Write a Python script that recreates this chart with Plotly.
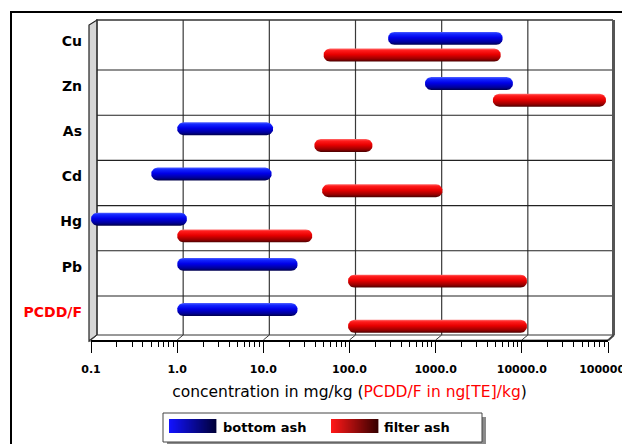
import numpy as np
import plotly.graph_objects as go

# ---------------- data ----------------
categories = ["Cu", "Zn", "As", "Cd", "Hg", "Pb", "PCDD/F"]
bottom_ash_low = [280, 750, 1.0, 0.5, 0.1, 1.0, 1.0]
bottom_ash_high = [6000, 7900, 13, 12.5, 1.3, 25, 25]
filter_ash_low = [50, 4600, 39, 48, 1.0, 96, 96]
filter_ash_high = [5700, 95000, 185, 1200, 37, 11500, 11500]
series_names = ["bottom ash", "filter ash"]
x_tick_vals = [0.1, 1, 10, 100, 1000, 10000, 100000]
x_tick_text = ["0.1", "1.0", "10.0", "100.0", "1000.0", "10000.0", "100000.0"]

# ---------------- layout constants ----------------
W, H = 622, 444
ML, MR, MT, MB = 91, 14, 20, 104
PW, PH = W - ML - MR, H - MT - MB
X_RANGE = [-1, 5]
Y_RANGE = [6.473, -0.606]
PX_PER_DEC = PW / (X_RANGE[1] - X_RANGE[0])
PX_PER_UNIT = PH / (Y_RANGE[0] - Y_RANGE[1])
BAR_HALF = 0.143                    # bar half thickness in y units
R_DEC = BAR_HALF * PX_PER_UNIT / PX_PER_DEC   # cap radius in decades
BLUE_OFF, RED_OFF, LABEL_OFF = -0.2, 0.17, -0.15
DEPTH = 6                           # pseudo 3D depth in px

FONT = "DejaVu Sans"

def fx(px):
    return (px - ML) / PW

def fy(py):
    return (H - MB - py) / PH

blue_scale = [[0, "#5060ff"], [0.15, "#1428ff"], [0.45, "#0000e8"],
              [0.8, "#000098"], [1, "#00004a"]]
red_scale = [[0, "#ff6a6a"], [0.15, "#ff1c1c"], [0.45, "#e80000"],
             [0.8, "#980000"], [1, "#4a0000"]]


def capsule(lo, hi, yc):
    a = np.log10(lo) + R_DEC
    b = np.log10(hi) - R_DEC
    t1 = np.linspace(np.pi / 2, 3 * np.pi / 2, 15)
    t2 = np.linspace(-np.pi / 2, np.pi / 2, 15)
    xs = np.concatenate([a + R_DEC * np.cos(t1), b + R_DEC * np.cos(t2)])
    ys = np.concatenate([yc - BAR_HALF * np.sin(t1), yc - BAR_HALF * np.sin(t2)])
    xs = np.append(xs, xs[0])
    ys = np.append(ys, ys[0])
    return 10 ** xs, ys


fig = go.Figure()

for lows, highs, off, scale, name in [
    (bottom_ash_low, bottom_ash_high, BLUE_OFF, blue_scale, series_names[0]),
    (filter_ash_low, filter_ash_high, RED_OFF, red_scale, series_names[1]),
]:
    for i, (lo, hi) in enumerate(zip(lows, highs)):
        yc = i + off
        xs, ys = capsule(lo, hi, yc)
        fig.add_trace(go.Scatter(
            x=xs, y=ys, mode="lines", fill="toself",
            line=dict(width=0, color="rgba(0,0,0,0)"),
            fillgradient=dict(type="vertical", colorscale=scale,
                              start=yc - BAR_HALF, stop=yc + BAR_HALF),
            name=name, showlegend=False, hoverinfo="skip",
        ))

shapes = []
# left wall
shapes.append(dict(type="path", xref="paper", yref="paper", layer="below",
                   path=f"M {fx(89)} {fy(341)} L {fx(89)} {fy(25)} L {fx(97)} {fy(20)} "
                        f"L {fx(97)} {fy(335)} Z",
                   fillcolor="#d6d6d6", line=dict(color="#222222", width=1.2)))
# floor
shapes.append(dict(type="path", xref="paper", yref="paper", layer="below",
                   path=f"M {fx(89)} {fy(341)} L {fx(97)} {fy(335)} L {fx(614)} {fy(335)} "
                        f"L {fx(608)} {fy(340)} Z",
                   fillcolor="#ffffff", line=dict(color="#333333", width=1)))
# vertical grid lines on back wall + floor diagonals
for v in x_tick_vals:
    shapes.append(dict(type="line", xref="x", xsizemode="pixel", xanchor=v,
                       x0=DEPTH, x1=DEPTH, yref="paper", y0=fy(335), y1=fy(20),
                       layer="below", line=dict(color="#3a3a3a", width=1.2)))
    shapes.append(dict(type="line", xref="x", xsizemode="pixel", xanchor=v,
                       x0=0, x1=DEPTH, yref="paper", y0=fy(340), y1=fy(335),
                       layer="below", line=dict(color="#3a3a3a", width=1)))
# horizontal grid lines between categories
for i in range(len(categories) - 1):
    shapes.append(dict(type="line", xref="paper", x0=fx(97), x1=fx(613),
                       yref="y", y0=i + 0.5, y1=i + 0.5, layer="below",
                       line=dict(color="#222222", width=1.1)))
# top edge
shapes.append(dict(type="line", xref="paper", yref="paper", x0=fx(96), x1=fx(613),
                   y0=fy(20), y1=fy(20), layer="below",
                   line=dict(color="#333333", width=1.5)))
# right wall edge
shapes.append(dict(type="line", xref="paper", yref="paper", x0=fx(613.5), x1=fx(613.5),
                   y0=fy(20), y1=fy(335), layer="above",
                   line=dict(color="#555555", width=3)))
shapes.append(dict(type="line", xref="paper", yref="paper", x0=fx(614), x1=fx(608),
                   y0=fy(335), y1=fy(340.5), layer="above",
                   line=dict(color="#444444", width=2)))
# outer frame
shapes.append(dict(type="rect", xref="paper", yref="paper", x0=fx(11), x1=fx(660),
                   y0=fy(480), y1=fy(12), layer="above",
                   line=dict(color="#000000", width=2), fillcolor="rgba(0,0,0,0)"))
# legend box shadow + box
shapes.append(dict(type="rect", xref="paper", yref="paper", x0=fx(167), x1=fx(486),
                   y0=fy(446), y1=fy(417), layer="above",
                   line=dict(width=0), fillcolor="#8a8a8a"))
shapes.append(dict(type="rect", xref="paper", yref="paper", x0=fx(163), x1=fx(482),
                   y0=fy(442), y1=fy(413), layer="above",
                   line=dict(color="#444444", width=1), fillcolor="#ffffff"))


def hex2rgb(h):
    return [int(h[k:k + 2], 16) for k in (1, 3, 5)]


def swatch(x_left, y_top, c0, c1, w=47, h=14, n=47):
    r0, r1 = np.array(hex2rgb(c0)), np.array(hex2rgb(c1))
    out = []
    for k in range(n):
        t = k / (n - 1)
        c = (r0 + (r1 - r0) * t).round().astype(int)
        xa = x_left + w * k / n
        xb = x_left + w * (k + 1) / n + 0.4
        out.append(dict(type="rect", xref="paper", yref="paper",
                        x0=fx(xa), x1=fx(xb), y0=fy(y_top + h), y1=fy(y_top),
                        layer="above", line=dict(width=0),
                        fillcolor=f"rgb({c[0]},{c[1]},{c[2]})"))
    return out


shapes += swatch(169, 419, "#1212ff", "#00003a")
shapes += swatch(331, 419, "#ff1818", "#380000")

annotations = [
    dict(text=series_names[0], xref="paper", yref="paper", x=fx(221), y=fy(427),
         xanchor="left", yanchor="middle", showarrow=False,
         font=dict(family=FONT, size=13, color="#000000", weight="bold")),
    dict(text=series_names[1], xref="paper", yref="paper", x=fx(382), y=fy(427),
         xanchor="left", yanchor="middle", showarrow=False,
         font=dict(family=FONT, size=13, color="#000000", weight="bold")),
]

y_tick_text = [f'<span style="color:#ff0000">{c}</span>' if c == "PCDD/F" else c
               for c in categories]
minor_vals = [d * m for d in x_tick_vals[:-1] for m in range(2, 10)]

fig.update_layout(
    width=W, height=H,
    margin=dict(l=ML, r=MR, t=MT, b=MB, autoexpand=False),
    paper_bgcolor="#ffffff", plot_bgcolor="rgba(0,0,0,0)",
    showlegend=False,
    shapes=shapes, annotations=annotations,
    xaxis=dict(
        type="log", range=X_RANGE, autorange=False,
        tickmode="array", tickvals=x_tick_vals, ticktext=x_tick_text,
        ticks="outside", ticklen=11, tickwidth=1.2, tickcolor="#000000",
        showline=True, linecolor="#000000", linewidth=1.5,
        showgrid=False, zeroline=False,
        tickfont=dict(family=FONT, size=11, color="#000000", weight="bold"),
        ticklabelstandoff=7, ticklabeloverflow="allow",
        minor=dict(tickmode="array", tickvals=minor_vals, ticks="outside",
                   ticklen=5, tickwidth=1, tickcolor="#000000", showgrid=False),
        title=dict(text='concentration in mg/kg (<span style="color:#ff0000">PCDD/F in ng[TE]/kg</span>)',
                   font=dict(family=FONT, size=15.5, color="#000000"), standoff=11),
        automargin=False,
    ),
    yaxis=dict(
        range=Y_RANGE, autorange=False,
        tickmode="array", tickvals=[i + LABEL_OFF for i in range(len(categories))],
        ticktext=y_tick_text, ticks="", showgrid=False, zeroline=False,
        showline=False, ticklabelstandoff=8,
        tickfont=dict(family=FONT, size=14, color="#000000", weight="bold"),
        automargin=False,
    ),
)

fig.write_html("out.html")
